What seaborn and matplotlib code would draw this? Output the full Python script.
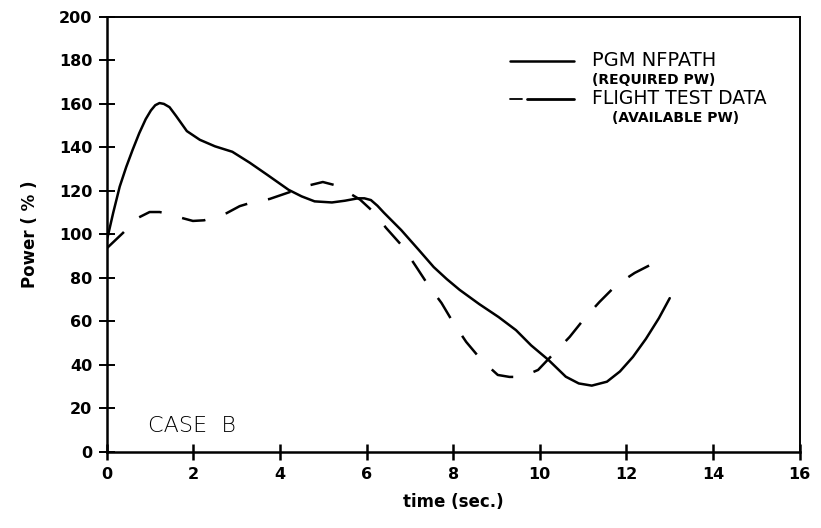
import matplotlib
matplotlib.use("Agg")
import matplotlib.pyplot as plt
import seaborn as sns
import pandas as pd

# PGM NFPATH (required power), % vs time in seconds
t_req = [0, 0.15, 0.3, 0.45, 0.6, 0.75, 0.9, 1.02, 1.12, 1.22, 1.32, 1.45, 1.6,
         1.85, 2.15, 2.5, 2.9, 3.3, 3.7, 4.2, 4.5, 4.8, 5.2, 5.5, 5.8, 5.95,
         6.1, 6.25, 6.4, 6.8, 7.2, 7.55, 7.85, 8.15, 8.6, 9.05, 9.45, 9.8,
         10.2, 10.6, 10.9, 11.2, 11.55, 11.85, 12.15, 12.45, 12.75, 13.0]
p_req = [97, 110, 122, 131, 139, 146.5, 153, 157, 159.4, 160.4, 160, 158.5,
         154.5, 147.5, 143.5, 140.5, 138, 133, 127.5, 120.5, 117.5, 115.2,
         114.7, 115.5, 116.6, 116.6, 115.8, 113.2, 110, 102, 93, 85, 79.5,
         74.5, 68, 62, 56, 49, 42.3, 34.6, 31.5, 30.5, 32.3, 37, 43.7, 52,
         61.5, 70.7]

# Flight test data (available power)
t_av = [0, 0.37, 0.72, 0.99, 1.22, 1.5, 1.73, 1.99, 2.25, 2.5, 2.77, 3.07, 3.4,
        3.76, 4.23, 4.6, 4.99, 5.3, 5.6, 5.85, 6.15, 6.45, 6.84, 7.15, 7.42,
        7.73, 7.99, 8.3, 8.65, 9.03, 9.3, 9.58, 9.96, 10.18, 10.69, 11.04,
        11.38, 11.77, 12.19, 12.69]
p_av = [93.6, 100.6, 107.6, 110.3, 110.3, 109.2, 107.6, 106.2, 106.5, 108,
        109.8, 113, 115, 116.3, 119.5, 122.2, 124.1, 122.5, 119, 116, 110.5,
        103, 94.3, 85, 76.8, 68.5, 59.8, 50.6, 42.3, 35.4, 34.5, 34.5, 37.7,
        42.3, 52.9, 61.6, 69, 76.8, 82.3, 87.4]

x_ticks = [0, 2, 4, 6, 8, 10, 12, 14, 16]
y_ticks = [0, 20, 40, 60, 80, 100, 120, 140, 160, 180, 200]

sns.set_style("ticks")
plt.rcParams["font.family"] = ["DejaVu Sans"]
plt.rcParams["text.color"] = "black"
plt.rcParams["axes.labelcolor"] = "black"
plt.rcParams["xtick.color"] = "black"
plt.rcParams["ytick.color"] = "black"

fig = plt.figure(figsize=(8.21, 5.28), dpi=100)
ax = fig.add_axes([0.130, 0.144, 0.844, 0.824])

df_req = pd.DataFrame({"t": t_req, "p": p_req})
df_av = pd.DataFrame({"t": t_av, "p": p_av})

sns.lineplot(data=df_req, x="t", y="p", ax=ax, color="black", linewidth=1.8,
             sort=False, estimator=None)
sns.lineplot(data=df_av, x="t", y="p", ax=ax, color="black", linewidth=1.8,
             sort=False, estimator=None)
dashed = ax.lines[-1]
dashed.set_dashes((9.5, 8.5))
dashed.set_dash_capstyle("butt")

ax.set_xlim(0, 16)
ax.set_ylim(0, 200)
ax.set_xticks(x_ticks)
ax.set_yticks(y_ticks)
ax.set_xticklabels([str(v) for v in x_ticks], fontsize=11.5, fontweight="bold")
ax.set_yticklabels([str(v) for v in y_ticks], fontsize=11.5, fontweight="bold")
ax.tick_params(axis="x", direction="inout", length=11, width=1.8, pad=5)
ax.tick_params(axis="y", direction="inout", length=11, width=1.4, pad=5)

for side in ["left", "bottom"]:
    ax.spines[side].set_linewidth(1.8)
for side in ["top", "right"]:
    ax.spines[side].set_linewidth(1.4)
for sp in ax.spines.values():
    sp.set_color("black")

ax.set_xlabel("time (sec.)", fontsize=12, fontweight="bold", labelpad=8)
ax.set_ylabel("Power ( % )", fontsize=12, fontweight="bold", labelpad=14)

# Legend drawn as line samples and stacked captions
tr = ax.transAxes
ax.plot([0.5815, 0.675], [0.899, 0.899], color="black", linewidth=1.8,
        transform=tr, clip_on=False)
ax.plot([0.5815, 0.600], [0.8115, 0.8115], color="black", linewidth=1.3,
        transform=tr, clip_on=False)
ax.plot([0.607, 0.675], [0.8115, 0.8115], color="black", linewidth=2.0,
        transform=tr, clip_on=False)
ax.text(0.700, 0.899, "PGM NFPATH", transform=tr, fontsize=14, va="center", ha="left")
ax.text(0.700, 0.855, "(REQUIRED PW)", transform=tr, fontsize=10, va="center",
        ha="left", fontweight="bold")
ax.text(0.700, 0.8115, "FLIGHT TEST DATA", transform=tr, fontsize=13.5, va="center", ha="left")
ax.text(0.7287, 0.768, "(AVAILABLE PW)", transform=tr, fontsize=10, va="center",
        ha="left", fontweight="bold")

ax.text(0.95, 12, "CASE  B", fontsize=16, va="center", ha="left", fontweight="light")

fig.savefig("out.png", dpi=100, facecolor="white")
